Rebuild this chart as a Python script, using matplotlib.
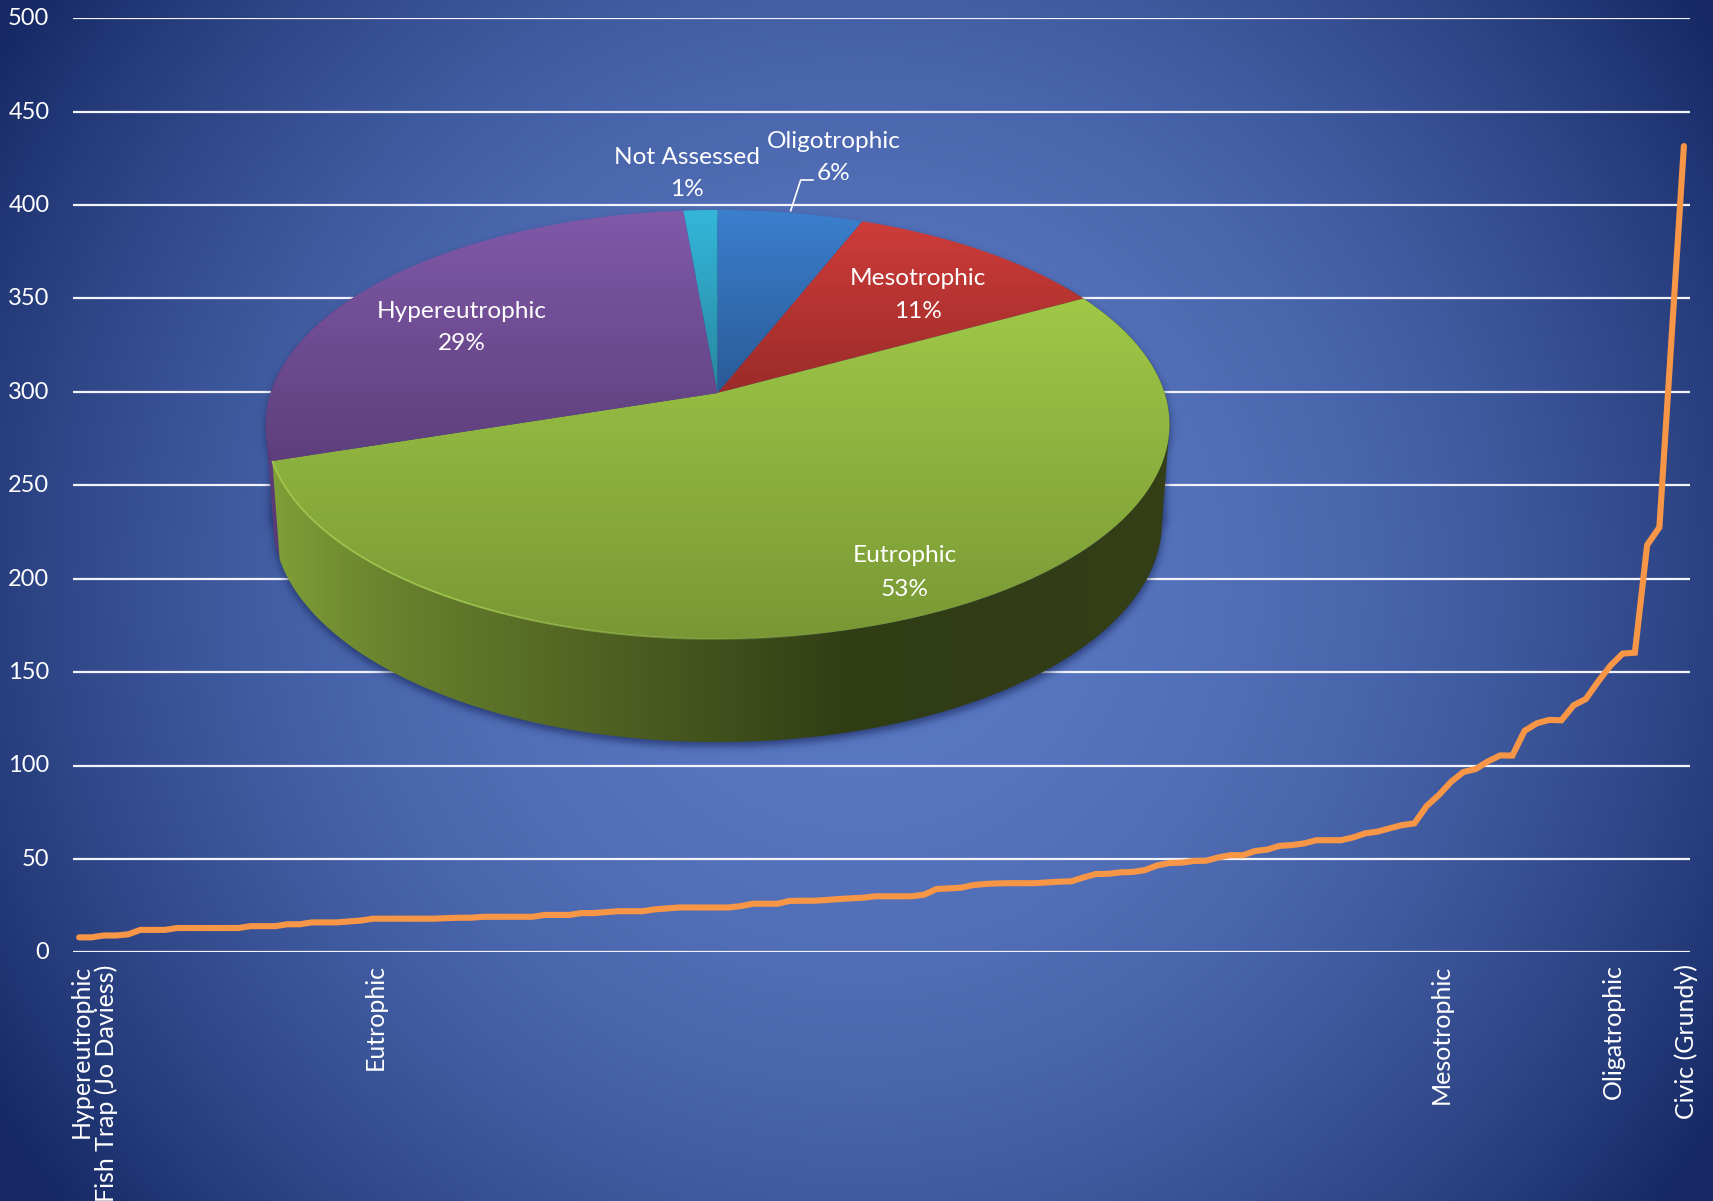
import numpy as np
import matplotlib
matplotlib.use("Agg")
import matplotlib.pyplot as plt
from matplotlib.collections import LineCollection
from matplotlib.patches import PathPatch
from matplotlib.path import Path
from matplotlib.colors import to_rgb
from matplotlib.transforms import ScaledTranslation

plt.rcParams["font.family"] = ["Lato", "DejaVu Sans"]

# Lake readings, sorted ascending, one value per lake
lake_values = [
    8, 8, 9, 9, 9.6, 12, 12, 12, 13, 13, 13, 13, 13, 13, 14, 14, 14, 15, 15, 16,
    16, 16, 16.5, 17, 18, 18, 18, 18, 18, 18, 18.3, 18.5, 18.5, 19, 19, 19, 19, 19, 20, 20,
    20, 21, 21, 21.5, 22, 22, 22, 23, 23.5, 24, 24, 24, 24, 24, 24.7, 26, 26, 26, 27.5, 27.6,
    27.6, 28, 28.5, 28.9, 29.2, 30, 30, 30, 30, 30.9, 33.9, 34.2, 34.6, 36, 36.6, 36.9, 37, 37, 37, 37.4,
    37.8, 38, 40.1, 41.9, 42, 42.8, 43, 44, 46.5, 47.8, 48, 48.9, 49, 50.8, 52, 52, 54.2, 55, 57, 57.4,
    58.3, 60, 60, 60, 61.5, 63.7, 64.6, 66.4, 68.1, 69, 78.3, 84.2, 91.3, 96.5, 98.1, 102.2, 105.4, 105.3, 118.6, 122.6,
    124.4, 124.2, 132.2, 135.6, 144.9, 153.4, 159.9, 160.4, 218, 227.5, 330, 431.6,
]
tick_positions = [0, 2, 24, 111, 125, 131]
tick_names = ["Hypereutrophic", "Fish Trap (Jo Daviess)", "Eutrophic",
              "Mesotrophic", "Oligatrophic", "Civic (Grundy)"]
y_ticks = [0, 50, 100, 150, 200, 250, 300, 350, 400, 450, 500]

# Trophic-state shares, clockwise from twelve o'clock
state_names = ["Oligotrophic", "Mesotrophic", "Eutrophic", "Hypereutrophic", "Not Assessed"]
state_shares = [6, 11, 53, 28.6, 1.4]

W, H = 1713, 1201
fig = plt.figure(figsize=(W / 100, H / 100), dpi=100)

# Background: soft radial blend, light in the middle and navy towards the corners
bg_ax = fig.add_axes([0, 0, 1, 1], zorder=0)
bg_ax.set_axis_off()
yy, xx = np.mgrid[0:H, 0:W]
t = ((xx - 860) ** 2 + (yy - 580) ** 2) / 1015.0 ** 2
t = np.clip(t, 0, 1)[..., None]
inner, outer = np.array(to_rgb("#5a79c3")), np.array(to_rgb("#162965"))
bg_ax.imshow(inner * (1 - t) + outer * t, extent=(0, W, H, 0), aspect="auto",
             interpolation="bilinear")

# Line chart with horizontal grid
ax = fig.add_axes([73 / W, 1 - 952.3 / H, (1690 - 73) / W, (952.3 - 18.3) / H], zorder=1)
ax.patch.set_alpha(0)
x = np.arange(len(lake_values))
ax.plot(x, lake_values, color="#f79646", lw=4.4, solid_capstyle="round",
        solid_joinstyle="miter", zorder=3, clip_on=False)
ax.set_xlim(-0.5, len(lake_values) - 0.5)
ax.set_ylim(0, 500)
ax.set_yticks(y_ticks)
ax.set_xticks(tick_positions)
ax.set_xticklabels(tick_names, rotation=90, ha="center", va="top", color="white", fontsize=18)
ax.tick_params(axis="x", length=0, pad=8.7)
ax.tick_params(axis="y", length=0, pad=17, labelcolor="white", labelsize=17)
ax.grid(axis="y", color="#f2f4fa", lw=1.6, zorder=1)
ax.grid(axis="x", visible=False)
for s in ax.spines.values():
    s.set_visible(False)
nudge_x = ScaledTranslation(2.5 / 100, 0, fig.dpi_scale_trans)
nudge_y = ScaledTranslation(0, 1.5 / 100, fig.dpi_scale_trans)
for lbl in ax.get_xticklabels():
    lbl.set_clip_on(False)
    lbl.set_transform(lbl.get_transform() + nudge_x)
for lbl in ax.get_yticklabels():
    lbl.set_transform(lbl.get_transform() + nudge_y)

# Perspective pie drawn in pixel space
pie_ax = fig.add_axes([0, 0, 1, 1], zorder=2)
pie_ax.patch.set_alpha(0)
pie_ax.set_axis_off()
CX, CY = 717.6, 393.0
PERSP, YSCALE, XSCALE = -0.1469, 152.2, 447.0
WALL_SX, WALL_SY, WALL_Y0 = 0.9834, 1.0256, 489.7
TOP_A, TOP_B, TOP_YC = 452.0, 214.5, 424.5
BOT_A, BOT_B, BOT_YC = 444.5, 220.0, 522.0


def top_rim(deg):
    a = np.radians(deg)
    depth = -np.cos(a)
    w = 1 + PERSP * depth
    return CX + XSCALE * np.sin(a) / w, (CY + YSCALE * depth) / w


def bottom_rim(deg):
    px, py = top_rim(deg)
    return CX + (px - CX) * WALL_SX, WALL_Y0 + (py - CY) * WALL_SY


def clipped_gradient(path, image, extent, z):
    patch = PathPatch(path, fc="none", ec="none", transform=pie_ax.transData)
    pie_ax.add_patch(patch)
    im = pie_ax.imshow(image, extent=extent, aspect="auto", zorder=z, interpolation="bilinear")
    im.set_clip_path(patch)


def vertical_ramp(c_top, c_bot):
    f = np.linspace(0, 1, 128)[:, None, None]
    return np.array(to_rgb(c_top)) * (1 - f) + np.array(to_rgb(c_bot)) * f


def horizontal_ramp(stops, colors):
    f = np.linspace(stops[0], stops[-1], 512)
    rgb = np.array([to_rgb(c) for c in colors])
    return np.stack([np.interp(f, stops, rgb[:, k]) for k in range(3)], axis=-1)[None, ...]


# Drop shadow under the solid
m_top = ((xx - CX) / TOP_A) ** 2 + ((yy - TOP_YC) / TOP_B) ** 2 <= 1
m_bot = ((xx - CX) / BOT_A) ** 2 + ((yy - BOT_YC) / BOT_B) ** 2 <= 1
m_mid = (np.abs(xx - CX) <= 448) & (yy >= TOP_YC) & (yy <= BOT_YC)
mask = (m_top | m_bot | m_mid).astype(float)
mask = np.roll(mask, 4, axis=0)
kernel = np.exp(-0.5 * (np.arange(-12, 13) / 4.0) ** 2)
kernel /= kernel.sum()
for axis in (0, 1):
    mask = np.apply_along_axis(lambda v: np.convolve(v, kernel, mode="same"), axis, mask)
shadow = np.zeros((H, W, 4))
shadow[..., :3] = to_rgb("#101c50")
shadow[..., 3] = mask * 0.6
pie_ax.imshow(shadow, extent=(0, W, H, 0), aspect="auto", zorder=1)

edges = 360 * np.cumsum([0] + state_shares) / np.sum(state_shares)
top_colors = [("#3b7fcd", "#2a5a97"), ("#ce3c39", "#9b2b29"), ("#9fc847", "#799835"),
              ("#8059a9", "#5e3f7c"), ("#34b6da", "#28879f")]

# Side wall: Hypereutrophic sliver on the left, then the Eutrophic front
left_top, left_bot = (CX - TOP_A, TOP_YC), (CX - BOT_A, BOT_YC)
right_top, right_bot = (CX + TOP_A, TOP_YC), (CX + BOT_A, BOT_YC)
pie_ax.add_patch(plt.Polygon([left_top, left_bot, (CX - 380, BOT_YC), (CX - 380, TOP_YC)],
                             fc="#5b3a78", ec="none", zorder=2))
th = np.linspace(edges[3], 300, 60)
wall_poly = np.vstack([np.column_stack(top_rim(th)), np.column_stack(bottom_rim(th[::-1]))])
pie_ax.add_patch(plt.Polygon(wall_poly, fc="#5b3a78", ec="none", zorder=2))

pie_ax.add_patch(plt.Polygon([right_top, right_bot, (CX + 380, BOT_YC), (CX + 380, TOP_YC)],
                             fc="#343f18", ec="none", zorder=2.5))
th = np.linspace(edges[2] - 5, edges[3], 240)
wall_poly = np.vstack([np.column_stack(top_rim(th)), np.column_stack(bottom_rim(th[::-1]))])
wall_ramp = horizontal_ramp([272, 400, 640, 860, 1000, 1175],
                            ["#7f9f37", "#67802d", "#4b5c20", "#2f3c14", "#323d17", "#343f18"])
clipped_gradient(Path(wall_poly), wall_ramp, (272, 1175, 760, 200), 3)

# Top face, one slice at a time
for i, (c_top, c_bot) in enumerate(top_colors):
    th = np.linspace(edges[i], edges[i + 1], 200)
    rx, ry = top_rim(th)
    poly = np.vstack([[CX, CY], np.column_stack([rx, ry])])
    ext = (poly[:, 0].min(), poly[:, 0].max(), poly[:, 1].max(), poly[:, 1].min())
    clipped_gradient(Path(poly), vertical_ramp(c_top, c_bot), ext, 4 + i * 0.1)

# Bright bevel along the front-left rim, fading out towards the front
th = np.linspace(165, edges[3], 160)
rx, ry = top_rim(th)
pts = np.column_stack([rx, ry])
segs = np.stack([pts[:-1], pts[1:]], axis=1)
fade = np.clip((th[:-1] - 165) / 45.0, 0, 1) * 0.85
rgba = np.tile(to_rgb("#a9cf52") + (1.0,), (len(segs), 1))
rgba[:, 3] = fade
pie_ax.add_collection(LineCollection(segs, colors=rgba, linewidths=1.3, zorder=5))

# Slice labels
label_spots = [(833.6, 141, 173.6), (917.7, 278.5, 311), (904.6, 556, 589),
               (462, 311, 343), (686.6, 157, 190)]
for name, share, (lx, y1, y2) in zip(state_names, state_shares, label_spots):
    pie_ax.text(lx, y1, name, color="white", fontsize=17.6, ha="center", va="center", zorder=6)
    pie_ax.text(lx, y2, f"{share:.0f}%", color="white", fontsize=17.6, ha="center", va="center", zorder=6)
pie_ax.plot([790.7, 800.7, 813], [210.7, 180, 180], color="white", lw=1.2, zorder=6)

pie_ax.set_xlim(0, W)
pie_ax.set_ylim(H, 0)
bg_ax.set_xlim(0, W)
bg_ax.set_ylim(H, 0)

fig.savefig("out.png", dpi=100)
